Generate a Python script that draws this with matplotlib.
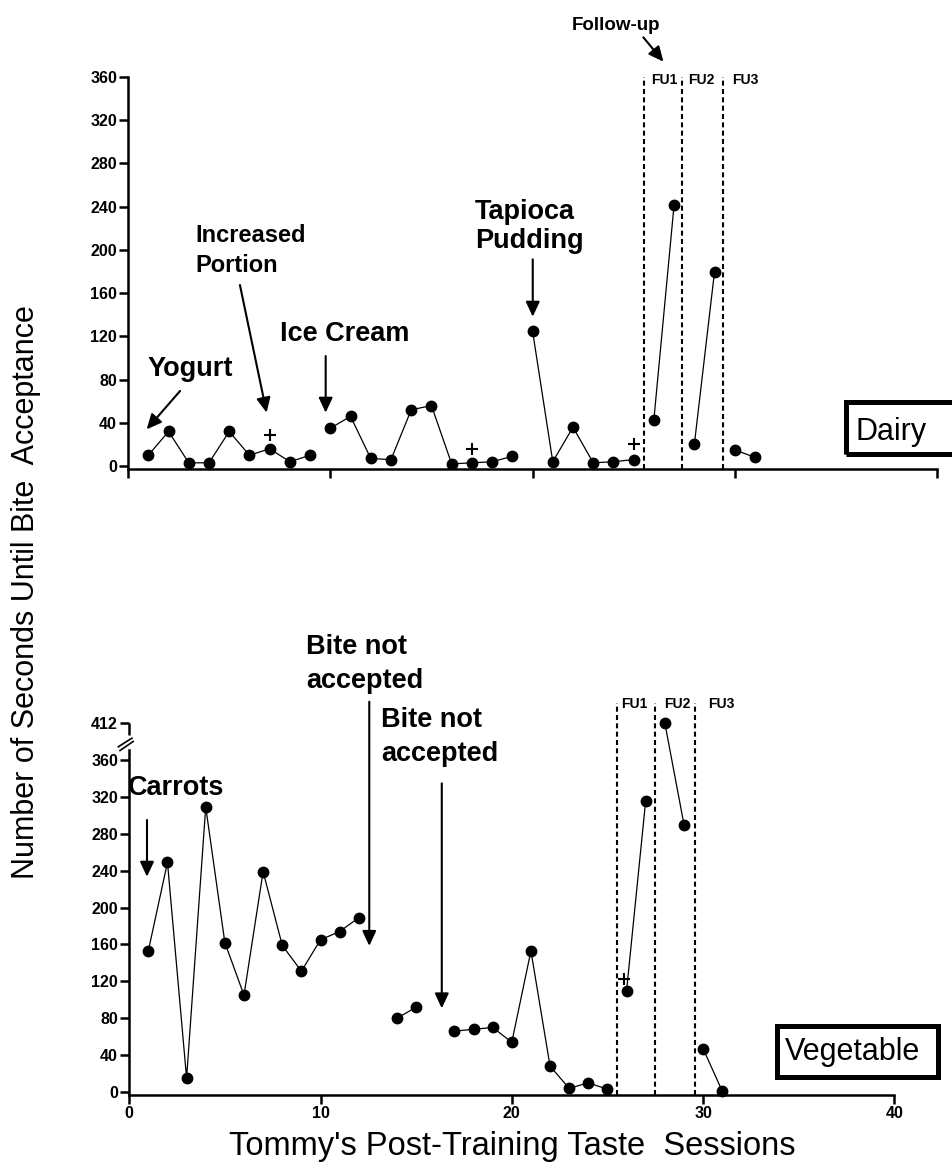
import numpy as np
import matplotlib.pyplot as plt
from matplotlib.patches import Rectangle

plt.rcParams['font.family'] = 'Liberation Sans'

# ---- Dairy (top panel) ----
yogurt_x = [1, 2, 3, 4, 5, 6, 7, 8, 9]
yogurt_y = [10, 32, 3, 3, 32, 10, 16, 4, 10]
icecream_x = [10, 11, 12, 13, 14, 15, 16, 17, 18, 19]
icecream_y = [35, 46, 7, 6, 52, 56, 2, 3, 4, 9]
tapioca_x = [20, 21, 22, 23, 24, 25]
tapioca_y = [125, 4, 36, 3, 4, 6]
dairy_fu_x = [[26, 27], [28, 29], [30, 31]]
dairy_fu_y = [[43, 242], [20, 180], [15, 8]]
dairy_plus_x = [7, 17, 25]
dairy_plus_y = [29, 16, 20]
dairy_fu_lines = [25.5, 27.4, 29.4]
dairy_fu_labels = ['FU1', 'FU2', 'FU3']
dairy_fu_label_x = [26.5, 28.33, 30.5]

# ---- Vegetable (bottom panel) ----
carrot_x = [1, 2, 3, 4, 5, 6, 7, 8, 9, 10, 11, 12]
carrot_y = [153, 249, 15, 309, 162, 105, 239, 159, 131, 165, 174, 189]
veg_mid_x = [14, 15]
veg_mid_y = [80, 92]
veg_late_x = [17, 18, 19, 20, 21, 22, 23, 24, 25]
veg_late_y = [66, 68, 70, 54, 153, 28, 4, 10, 3]
veg_fu_x = [[26, 27], [28, 29], [30, 31]]
veg_fu_y = [[110, 316], [412, 290], [47, 1]]
veg_plus_x = [25.85]
veg_plus_y = [122]
veg_fu_lines = [25.5, 27.5, 29.6]
veg_fu_label_x = [26.39, 28.64, 30.94]

BREAK_POS = 400  # 412 is drawn above the axis break


def brk(vals):
    return [v if v <= 360 else BREAK_POS for v in vals]


W, H = 952, 1171
fig = plt.figure(figsize=(W / 100, H / 100), dpi=100)

arrow_kw = dict(arrowstyle='-|>,head_length=0.9,head_width=0.42', lw=1.5,
                color='black', mutation_scale=10, shrinkA=0, shrinkB=0)
line_kw = dict(color='black', lw=0.9, marker='o', ms=7.5)
big = dict(fontsize=19.5, fontweight='bold', ha='left', va='baseline')
dash = (0, (2.4, 1.6))


def style_axes(ax):
    for s in ['top', 'right']:
        ax.spines[s].set_visible(False)
    for s in ['left', 'bottom']:
        ax.spines[s].set_linewidth(1.8)
    ax.tick_params(direction='out', length=6.5, width=1.8, pad=1.5)
    ax.set_xlim(0, 40)
    ax.set_xticks(range(0, 41, 10))


# ---------------- top panel ----------------
ax1 = fig.add_axes([128.1 / W, 1 - 469.3 / H, (937 - 128.1) / W, (469.3 - 77) / H])
style_axes(ax1)
ax1.set_ylim(-3, 360)
ax1.set_yticks(range(0, 361, 40), [str(v) for v in range(0, 361, 40)],
               fontsize=11.5, fontweight='bold')
ax1.tick_params(axis='x', labelbottom=False)

ax1.plot(yogurt_x, yogurt_y, **line_kw)
ax1.plot(icecream_x, icecream_y, **line_kw)
ax1.plot(tapioca_x, tapioca_y, **line_kw)
for xs, ys in zip(dairy_fu_x, dairy_fu_y):
    ax1.plot(xs, ys, clip_on=False, **line_kw)
ax1.plot(dairy_plus_x, dairy_plus_y, '+', color='black', ms=9, mew=1.5, ls='none')

for xv in dairy_fu_lines:
    ax1.plot([xv, xv], [-3, 360], color='black', lw=1.5, ls=dash, clip_on=False)
for xv, lab in zip(dairy_fu_label_x, dairy_fu_labels):
    ax1.text(xv, 353.5, lab, fontsize=10, fontweight='bold', ha='center', va='baseline')

ax1.text(0.98, 83, 'Yogurt', **big)
ax1.annotate('', xy=(0.92, 34), xytext=(2.57, 69.5), arrowprops=arrow_kw, annotation_clip=False)
ax1.text(3.31, 207.6, 'Increased', fontsize=17, fontweight='bold', ha='left', va='baseline')
ax1.text(3.31, 179.8, 'Portion', fontsize=17, fontweight='bold', ha='left', va='baseline')
ax1.annotate('', xy=(6.85, 49.4), xytext=(5.53, 167.5), arrowprops=arrow_kw, annotation_clip=False)
ax1.text(7.51, 115.7, 'Ice Cream', **big)
ax1.annotate('', xy=(9.77, 49.4), xytext=(9.77, 101.8), arrowprops=arrow_kw, annotation_clip=False)
ax1.text(17.16, 228.6, 'Tapioca', **big)
ax1.text(17.16, 201.5, 'Pudding', **big)
ax1.annotate('', xy=(20.01, 138.2), xytext=(20.01, 191.3), arrowprops=arrow_kw, annotation_clip=False)
ax1.text(24.13, 403.5, 'Follow-up', fontsize=13.5, fontweight='bold', ha='center', va='baseline')
ax1.annotate('', xy=(26.47, 374.2), xytext=(25.48, 396.7), arrowprops=arrow_kw, annotation_clip=False)

# ---------------- bottom panel ----------------
ax2 = fig.add_axes([129.2 / W, 1 - 1094.8 / H, (894.4 - 129.2) / W, (1094.8 - 722.1) / H])
style_axes(ax2)
ax2.set_ylim(-3, 401)
yt = list(range(0, 361, 40)) + [BREAK_POS]
ax2.set_yticks(yt, [str(v) for v in range(0, 361, 40)] + ['412'],
               fontsize=11.5, fontweight='bold')
ax2.set_xticklabels([str(v) for v in range(0, 41, 10)], fontsize=11.5, fontweight='bold')
ax2.spines['left'].set_bounds(-3, 371)
ax2.plot([0, 0], [387, BREAK_POS], color='black', lw=1.8, clip_on=False,
         solid_capstyle='butt')
bt = ax2.get_yaxis_transform()
ax2.plot([-0.0143, 0.0035], [374.2, 383.6], color='black', lw=1.2, transform=bt, clip_on=False)
ax2.plot([-0.0120, 0.0052], [370.2, 380.0], color='black', lw=1.2, transform=bt, clip_on=False)

ax2.plot(carrot_x, carrot_y, **line_kw)
ax2.plot(veg_mid_x, veg_mid_y, **line_kw)
ax2.plot(veg_late_x, veg_late_y, **line_kw)
for xs, ys in zip(veg_fu_x, veg_fu_y):
    ax2.plot(xs, brk(ys), clip_on=False, **line_kw)
ax2.plot(veg_plus_x, veg_plus_y, '+', color='black', ms=9, mew=1.5, ls='none')

for xv in veg_fu_lines:
    ax2.plot([xv, xv], [-3, 421.7], color='black', lw=1.5, ls=dash, clip_on=False)
for xv, lab in zip(veg_fu_label_x, dairy_fu_labels):
    ax2.text(xv, 416.3, lab, fontsize=10, fontweight='bold', ha='center', va='baseline')

ax2.text(-0.05, 322, 'Carrots', **big)
ax2.annotate('', xy=(0.93, 233.4), xytext=(0.93, 294.9), arrowprops=arrow_kw, annotation_clip=False)
ax2.text(9.24, 474.4, 'Bite not', **big)
ax2.text(9.24, 438.3, 'accepted', **big)
ax2.annotate('', xy=(12.55, 158.4), xytext=(12.55, 423.1), arrowprops=arrow_kw, annotation_clip=False)
ax2.text(13.15, 395.4, 'Bite not', **big)
ax2.text(13.15, 359.1, 'accepted', **big)
ax2.annotate('', xy=(16.34, 90.7), xytext=(16.34, 334.6), arrowprops=arrow_kw, annotation_clip=False)

# ---------------- panel labels (boxes) ----------------
fig.add_artist(Rectangle((845.8 / W, 1 - 454.2 / H), 0.2, 52.4 / H, transform=fig.transFigure,
                         fill=False, ec='black', lw=3.6))
fig.text(855 / W, 1 - 440 / H, 'Dairy', fontsize=22, ha='left', va='baseline')
fig.add_artist(Rectangle((776.5 / W, 1 - 1076.5 / H), 161.7 / W, 51 / H, transform=fig.transFigure,
                         fill=False, ec='black', lw=3.6))
fig.text(785 / W, 1 - 1060 / H, 'Vegetable', fontsize=22, ha='left', va='baseline')

fig.text(26 / W, 1 - 592 / H, 'Number of Seconds Until Bite  Acceptance', rotation=90,
         ha='center', va='center', fontsize=22)
fig.text(512.5 / W, 1 - 1155 / H, "Tommy's Post-Training Taste  Sessions",
         ha='center', va='baseline', fontsize=23.5)

fig.savefig('out.png', dpi=100)
